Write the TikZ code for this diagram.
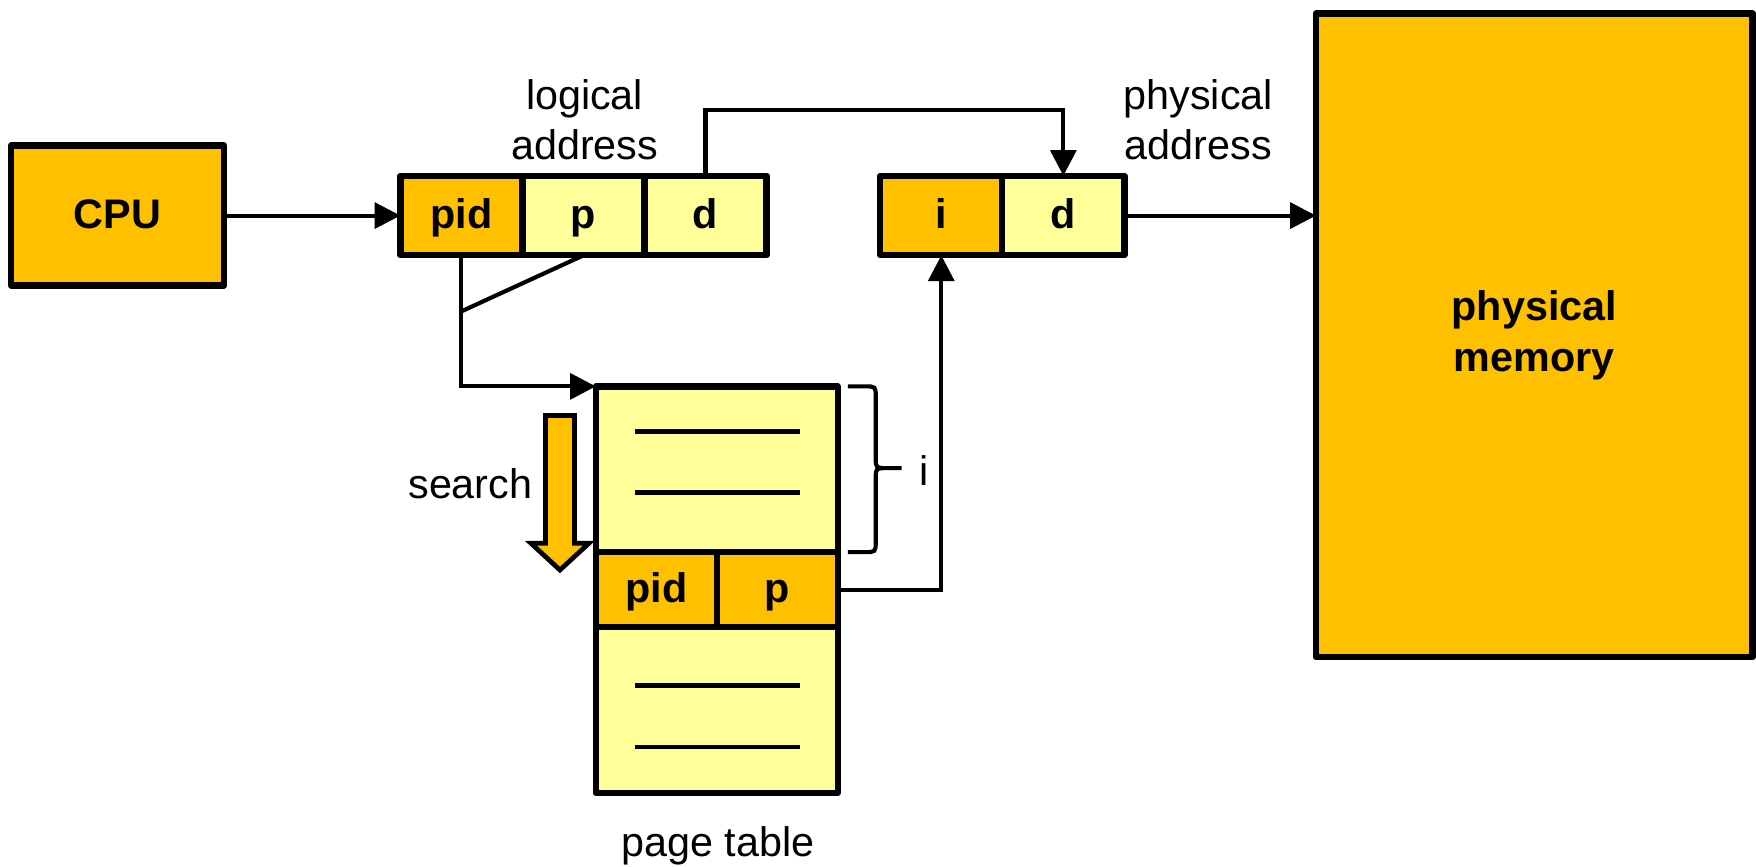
\documentclass[tikz,border=0pt]{standalone}
\usepackage{fontspec}
\setmainfont{Liberation Sans}
\usetikzlibrary{arrows.meta}
\definecolor{gold}{HTML}{FFC000}
\definecolor{paleyellow}{HTML}{FFFF99}

\begin{document}
\begin{tikzpicture}[x=0.02cm,y=-0.02cm,
    box/.style={draw,line width=3.2pt,line join=round,inner sep=0pt,outer sep=0pt,
        text height=17pt,text depth=4pt,font=\bfseries\fontsize{21}{25.6}\selectfont},
    dark/.style={box,fill=gold},
    light/.style={box,fill=paleyellow},
    cell/.style={minimum width=2.18cm,minimum height=1.42cm},
    lbl/.style={inner sep=0pt,align=center,font=\fontsize{21}{25.6}\selectfont},
    wire/.style={line width=2.1pt},
    arr/.style={wire,-{Triangle[length=0.46cm,width=0.46cm]}}]
\useasboundingbox (0,0) rectangle (1568,774);
\node[dark,minimum width=3.8cm,minimum height=2.5cm] (cpu) at (105,192.5) {CPU};
\node[dark,cell] (lpid) at (412,192.5) {pid};
\node[light,cell] (lp) at (521,192.5) {p};
\node[light,cell] (ld) at (630,192.5) {d};
\node[lbl] (lname) at (522,107) {logical\\address};
\node[dark,cell] (pi) at (840.5,192.5) {i};
\node[light,cell] (pd) at (949.5,192.5) {d};
\node[lbl] (pname) at (1070,107) {physical\\address};
\node[dark,align=center,minimum width=7.8cm,minimum height=11.5cm,text height=,text depth=] (mem) at (1370,299.5) {physical\\memory};
\node[light,minimum width=4.32cm,minimum height=2.96cm] (ptu) at (640,419) {};
\node[dark,minimum width=2.16cm,minimum height=1.34cm] (ptpid) at (586,526.5) {pid};
\node[dark,minimum width=2.16cm,minimum height=1.34cm] (ptp) at (694,526.5) {p};
\node[light,minimum width=4.32cm,minimum height=2.96cm] (ptl) at (640,634) {};
\node[lbl] (ptname) at (641,755) {page table};
\node[lbl] (search) at (420,432) {search};
\node[lbl] (iname) at (825,420) {i};
\foreach \y in {385,440,612,667}
    \draw[line width=2.5pt] (567,\y) -- (714,\y);
\draw[line width=2.4pt,fill=gold] (487,371) -- (513,371) -- (513,485) -- (526,485)
    -- (500,509) -- (474,485) -- (487,485) -- cycle;
\draw[wire] (757,345) -- (772,345) .. controls (782,345) .. (782,355) -- (782,409)
    .. controls (782,418) .. (792,418) -- (805,418) -- (792,418)
    .. controls (782,418) .. (782,427) -- (782,483)
    .. controls (782,493) .. (772,493) -- (757,493);
\coordinate (fork) at (412,278);
\draw[arr] (cpu) -- (lpid);
\draw[arr] (ld.north) -- ++(0,-59) -| (pd.north);
\draw[arr] (pd.east) -- (pd.east -| mem.west);
\draw[arr] (lpid.south) |- (ptu.north west);
\draw[wire] (lp.south) -- (fork);
\draw[arr] (ptp.east) -| (pi.south);
\end{tikzpicture}
\end{document}
